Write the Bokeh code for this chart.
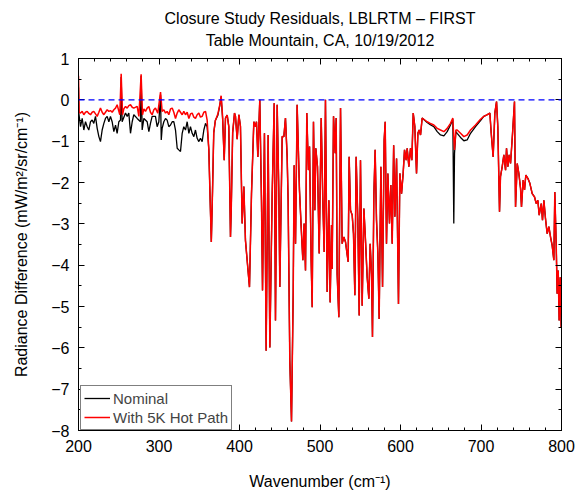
from bokeh.plotting import figure
from bokeh.models import (Span, Legend, LegendItem, LinearAxis, Title, SingleIntervalTicker,
                          CustomLabelingPolicy)
from bokeh.embed import file_html
from bokeh.resources import INLINE

# ---- Low band (200-382 cm^-1): the two runs differ ----
wn_low_nominal = [200.0, 200.4, 202.5, 204.6, 206.6, 208.7, 210.8, 212.8, 214.9, 217.0, 219.0,
                  221.1, 223.2, 225.3, 227.3, 229.4, 231.5, 233.5, 235.6, 237.7, 239.7, 241.8,
                  243.9, 246.0, 248.0, 250.1, 252.2, 253.0, 254.2, 258.4, 260.5, 262.5, 264.6,
                  266.7, 268.7, 272.9, 277.0, 277.8, 279.1, 281.2, 285.3, 287.4, 289.4, 291.5,
                  295.6, 297.7, 299.8, 301.9, 302.8, 303.9, 306.0, 308.1, 310.1, 312.2, 314.3,
                  316.4, 318.4, 320.5, 322.6, 324.6, 326.7, 328.8, 330.8, 332.9, 335.0, 337.1,
                  339.1, 341.2, 343.3, 345.3, 347.4, 349.5, 351.5, 353.6, 355.7, 357.8, 359.8,
                  361.9, 363.5, 365.0, 366.5, 368.0, 370.0, 373.0, 375.5, 377.2, 379.0, 381.0]
nominal_low = [0.30, -0.32, -0.65, -0.45, -0.73, -0.53, -0.65, -0.73, -0.53, -0.49, -0.57,
               -0.40, -0.69, -0.89, -1.01, -0.73, -0.57, -0.45, -0.40, -0.53, -0.40, -0.53,
               -0.77, -0.61, -0.81, -0.53, -0.49, 0.55, -0.53, -0.32, -0.40, -0.32, -0.81,
               -0.53, -0.36, -0.45, -0.53, 0.58, -0.73, -0.45, -0.53, -0.77, -0.57, -0.40,
               -0.40, -0.65, -0.53, 0.12, -0.97, -0.69, -0.53, -0.45, -0.49, -0.65, -0.61,
               -0.53, -0.53, -0.73, -1.17, -1.21, -1.25, -0.81, -0.65, -0.73, -0.53, -0.81,
               -0.65, -0.81, -0.89, -0.73, -0.93, -1.01, -0.93, -1.01, -0.73, -0.57, -0.65,
               -1.20, -2.40, -3.44, -2.20, -0.80, -0.50, -0.38, -0.14, 0.08, -0.45, -1.46]

wn_low_hot = [200.0, 200.8, 202.5, 204.6, 206.6, 208.7, 210.8, 212.8, 214.9, 217.0, 219.0,
              221.1, 223.2, 225.3, 227.3, 229.4, 231.5, 233.5, 235.6, 237.7, 239.7, 241.8,
              243.9, 246.0, 248.0, 251.3, 253.0, 254.7, 256.3, 258.4, 260.5, 262.5, 264.6,
              266.7, 268.7, 272.9, 275.0, 277.8, 279.5, 281.2, 283.2, 285.3, 287.4, 289.4,
              291.5, 293.6, 295.6, 298.5, 301.9, 303.9, 306.0, 308.1, 310.1, 312.2, 314.3,
              316.4, 318.4, 320.5, 322.6, 324.6, 326.7, 328.8, 330.8, 332.9, 335.0, 337.1,
              339.1, 341.2, 343.3, 345.3, 347.4, 349.5, 351.5, 353.6, 355.7, 357.8, 359.8,
              361.9, 363.5, 365.0, 366.5, 368.0, 370.0, 373.0, 375.5, 377.2, 379.0, 381.0]
hot_low = [0.58, -0.30, -0.32, -0.28, -0.36, -0.30, -0.28, -0.33, -0.36, -0.30, -0.28,
           -0.34, -0.40, -0.30, -0.20, -0.30, -0.36, -0.30, -0.24, -0.28, -0.26, -0.30,
           -0.24, -0.20, -0.12, -0.36, 0.63, -0.36, -0.22, -0.16, -0.20, -0.14, -0.12,
           -0.18, -0.20, -0.16, -0.40, 0.62, -0.36, -0.22, -0.28, -0.20, -0.16, -0.30,
           -0.36, -0.24, -0.20, -0.32, 0.19, -0.28, -0.24, -0.32, -0.28, -0.36, -0.22,
           -0.20, -0.30, -0.45, -0.32, -0.24, -0.30, -0.36, -0.28, -0.36, -0.30, -0.45,
           -0.34, -0.32, -0.42, -0.45, -0.36, -0.32, -0.42, -0.40, -0.30, -0.28, -0.49,
           -1.20, -2.40, -3.44, -2.20, -0.80, -0.50, -0.35, -0.12, 0.10, -0.40, -1.46]

# ---- Mid band (382-627 cm^-1): identical residuals ----
wn_mid = [382.6, 384.7, 386.7, 388.8, 389.8, 391.5, 393.8, 395.0, 397.1, 399.2, 401.2,
          403.3, 405.4, 407.4, 409.5, 412.4, 414.9, 417.8, 419.9, 421.1, 422.8, 425.2,
          427.3, 428.6, 431.0, 433.1, 435.6, 437.7, 440.6, 443.1, 444.7, 446.8, 448.9,
          450.1, 453.0, 455.1, 457.1, 459.2, 460.4, 462.5, 464.6, 466.7, 467.9, 469.6,
          471.6, 474.5, 476.6, 478.7, 480.3, 482.0, 483.6, 485.6, 487.0, 489.0, 490.3,
          491.9, 493.6, 494.8, 496.9, 499.0, 501.5, 503.5, 505.2, 506.8, 508.9, 511.0,
          512.6, 514.3, 515.1, 516.8, 518.9, 520.1, 521.3, 523.4, 525.5, 527.5, 529.6,
          531.7, 533.3, 535.0, 536.2, 537.9, 540.0, 541.6, 543.3, 544.9, 547.0, 548.7,
          550.3, 552.4, 554.5, 556.5, 558.6, 560.7, 562.3, 564.0, 565.2, 566.9, 568.5,
          570.2, 571.9, 573.5, 575.6, 577.7, 579.7, 581.0, 582.6, 584.3, 586.3, 588.0,
          589.7, 591.5, 593.0, 595.1, 597.5, 599.2, 601.3, 603.3, 605.0, 607.1, 608.3,
          610.4, 612.4, 614.1, 615.8, 617.8, 619.9, 621.6, 623.2, 624.9]
residual_mid = [-0.44, -0.37, -0.65, -3.32, -2.60, -0.80, -0.32, -0.40, -0.95, -0.36, -0.65,
                -2.99, -2.10, -3.40, -3.88, -4.53, -2.27, -0.53, -0.65, -0.53, -1.38, 0.00,
                -2.43, -4.61, -0.81, -6.07, -0.85, -5.99, -2.27, -0.08, -5.34, -0.12, -2.27,
                -4.53, -0.89, -0.89, -0.44, -1.38, -2.43, -6.31, -7.78, -4.69, -1.58, -3.48,
                -0.12, -2.18, -3.07, -3.88, -2.99, -4.13, -0.32, -1.70, -1.13, -3.88, -5.02,
                -0.53, -2.67, -1.17, -1.62, -3.72, -0.44, -2.43, -3.68, 0.00, -4.65, -2.43,
                -4.90, -3.03, -4.09, -0.40, -1.29, -0.44, -4.21, -5.26, -0.20, -3.48, -3.32,
                -3.44, -3.68, -3.92, -1.38, -2.67, -2.79, -3.24, -4.73, -1.38, -2.91, -5.22,
                -1.46, -4.98, -2.63, -3.40, -4.29, -4.81, -3.48, -4.21, -5.74, -2.31, -1.21,
                -2.91, -3.72, -5.30, -1.62, -4.53, -0.97, -0.53, -3.48, -1.78, -2.99, -2.06,
                -3.48, -1.10, -2.83, -1.42, -4.94, -1.78, -2.27, -1.78, -1.21, -1.46, -1.17,
                -1.62, -1.17, -1.46, -0.32, -0.65, -1.78, -0.81, -0.73, -0.85]

# ---- High band (627-800 cm^-1) ----
wn_high = [626.9, 633.1, 637.0, 641.4, 645.6, 649.7, 653.9, 658.0, 662.1, 665.0, 666.2,
           667.1, 668.8, 670.4, 674.6, 678.7, 682.8, 687.0, 693.2, 699.4, 703.5, 707.7,
           711.0, 712.7, 715.1, 717.2, 719.3, 720.9, 723.0, 724.2, 726.3, 728.4, 730.5,
           731.7, 733.4, 735.0, 736.7, 739.2, 741.6, 742.9, 745.0, 747.0, 749.1, 750.3,
           752.4, 754.1, 755.7, 758.2, 760.7, 763.6, 766.5, 768.6, 770.6, 772.3, 774.8,
           776.4, 778.1, 780.1, 782.2, 784.3, 786.4, 788.4, 790.5, 791.7, 793.4, 794.6,
           795.9, 797.1, 798.4, 799.6]
hot_high = [-0.44, -0.53, -0.57, -0.61, -0.69, -0.73, -0.77, -0.69, -0.57, -0.44, -0.90,
            -1.21, -0.73, -0.73, -0.81, -0.89, -0.85, -0.73, -0.61, -0.47, -0.40, -0.36,
            -0.32, -0.81, -1.38, -0.32, -0.04, -0.65, -2.71, -1.86, -1.62, -1.33, -1.70,
            -1.17, -1.62, -1.33, -1.54, -0.81, -0.04, -2.59, -1.54, -1.78, -2.14, -2.59,
            -1.94, -2.18, -1.82, -1.90, -2.02, -2.27, -2.35, -2.51, -2.43, -2.79, -2.51,
            -2.91, -2.43, -2.87, -3.24, -3.07, -3.32, -3.52, -3.88, -2.23, -3.48, -4.69,
            -4.13, -5.34, -4.29, -5.50]
nominal_high = [-0.44, -0.55, -0.60, -0.65, -0.77, -0.85, -0.87, -0.77, -0.61, -0.47, -2.99,
                -1.30, -0.77, -0.81, -0.91, -0.99, -0.97, -0.81, -0.65, -0.50, -0.40, -0.36,
                -0.32, -0.81, -1.38, -0.32, -0.04, -0.65, -2.71, -1.86, -1.62, -1.33, -1.70,
                -1.17, -1.62, -1.33, -1.54, -0.81, -0.04, -2.59, -1.54, -1.78, -2.14, -2.59,
                -1.94, -2.18, -1.82, -1.90, -2.02, -2.27, -2.35, -2.51, -2.43, -2.79, -2.51,
                -2.91, -2.43, -2.87, -3.24, -3.07, -3.32, -3.52, -3.88, -2.23, -3.48, -4.69,
                -4.13, -5.34, -4.29, -5.50]

wn_nominal = wn_low_nominal + wn_mid + wn_high
nominal = nominal_low + residual_mid + nominal_high
wn_hot = wn_low_hot + wn_mid + wn_high
hot = hot_low + residual_mid + hot_high

FONT = "Liberation Sans"

p = figure(width=576, height=494, x_range=(200, 800), y_range=(-8, 1),
           output_backend="svg", toolbar_location=None,
           title="Closure Study Residuals, LBLRTM \u2013 FIRST",
           min_border_left=78, min_border_right=15, min_border_top=58, min_border_bottom=64)
p.title.align = "center"
p.title.text_font = FONT
p.title.text_font_size = "16px"
p.title.text_font_style = "normal"
p.title.text_color = "black"
p.title.standoff = 2

p.xgrid.visible = False
p.ygrid.visible = False
p.outline_line_color = "black"
p.outline_line_width = 1
p.background_fill_color = "white"
p.border_fill_color = "white"

no_labels = CustomLabelingPolicy(code="return new Set()")


def style(ax, labels=True):
    ax.axis_line_color = "black"
    ax.major_tick_line_color = "black"
    ax.minor_tick_line_color = "black"
    ax.major_tick_in = 6
    ax.major_tick_out = 0
    ax.minor_tick_in = 3
    ax.minor_tick_out = 0
    ax.major_label_text_font = FONT
    ax.major_label_text_color = "black"
    if labels:
        ax.major_label_text_font_size = "16px"
        ax.major_label_standoff = 9
        ax.axis_label_text_font = FONT
        ax.axis_label_text_font_size = "16px"
        ax.axis_label_text_font_style = "normal"
        ax.axis_label_text_color = "black"
        ax.axis_label_standoff = 18
    else:
        ax.major_label_text_font_size = "8px"
        ax.major_label_standoff = 0
        ax.major_label_policy = no_labels


p.xaxis.ticker = SingleIntervalTicker(interval=100, num_minor_ticks=5)
p.yaxis.ticker = SingleIntervalTicker(interval=1, num_minor_ticks=2)
p.xaxis.axis_label = "Wavenumber (cm\u207b\u00b9)"
p.yaxis.axis_label = "Radiance Difference (mW/m\u00b2/sr/cm\u207b\u00b9)"
style(p.xaxis[0])
style(p.yaxis[0])

top_axis = LinearAxis(ticker=SingleIntervalTicker(interval=100, num_minor_ticks=5))
right_axis = LinearAxis(ticker=SingleIntervalTicker(interval=1, num_minor_ticks=2))
style(top_axis, labels=False)
style(right_axis, labels=False)
p.add_layout(top_axis, "above")
p.add_layout(right_axis, "right")
p.add_layout(Title(text="Table Mountain, CA, 10/19/2012", align="center",
                   text_font=FONT, text_font_size="16px", text_font_style="normal",
                   text_color="black", standoff=4), "above")

p.add_layout(Span(location=0, dimension="width", line_color="#0000ff",
                  line_dash="6 4", line_width=1.2))

r_nom = p.line(wn_nominal, nominal, line_color="black", line_width=1.3)
r_hot = p.line(wn_hot, hot, line_color="#ff0000", line_width=1.5)

legend = Legend(items=[LegendItem(label="Nominal", renderers=[r_nom]),
                       LegendItem(label="With 5K Hot Path", renderers=[r_hot])],
                location=(2, 0), margin=0, padding=3, spacing=1,
                label_text_font=FONT, label_text_font_size="15px",
                label_height=18, glyph_height=18, glyph_width=26, label_standoff=3,
                border_line_color="black", border_line_width=1,
                background_fill_color="white", background_fill_alpha=1)
p.add_layout(legend)

open("out.html", "w").write(file_html(p, INLINE))
